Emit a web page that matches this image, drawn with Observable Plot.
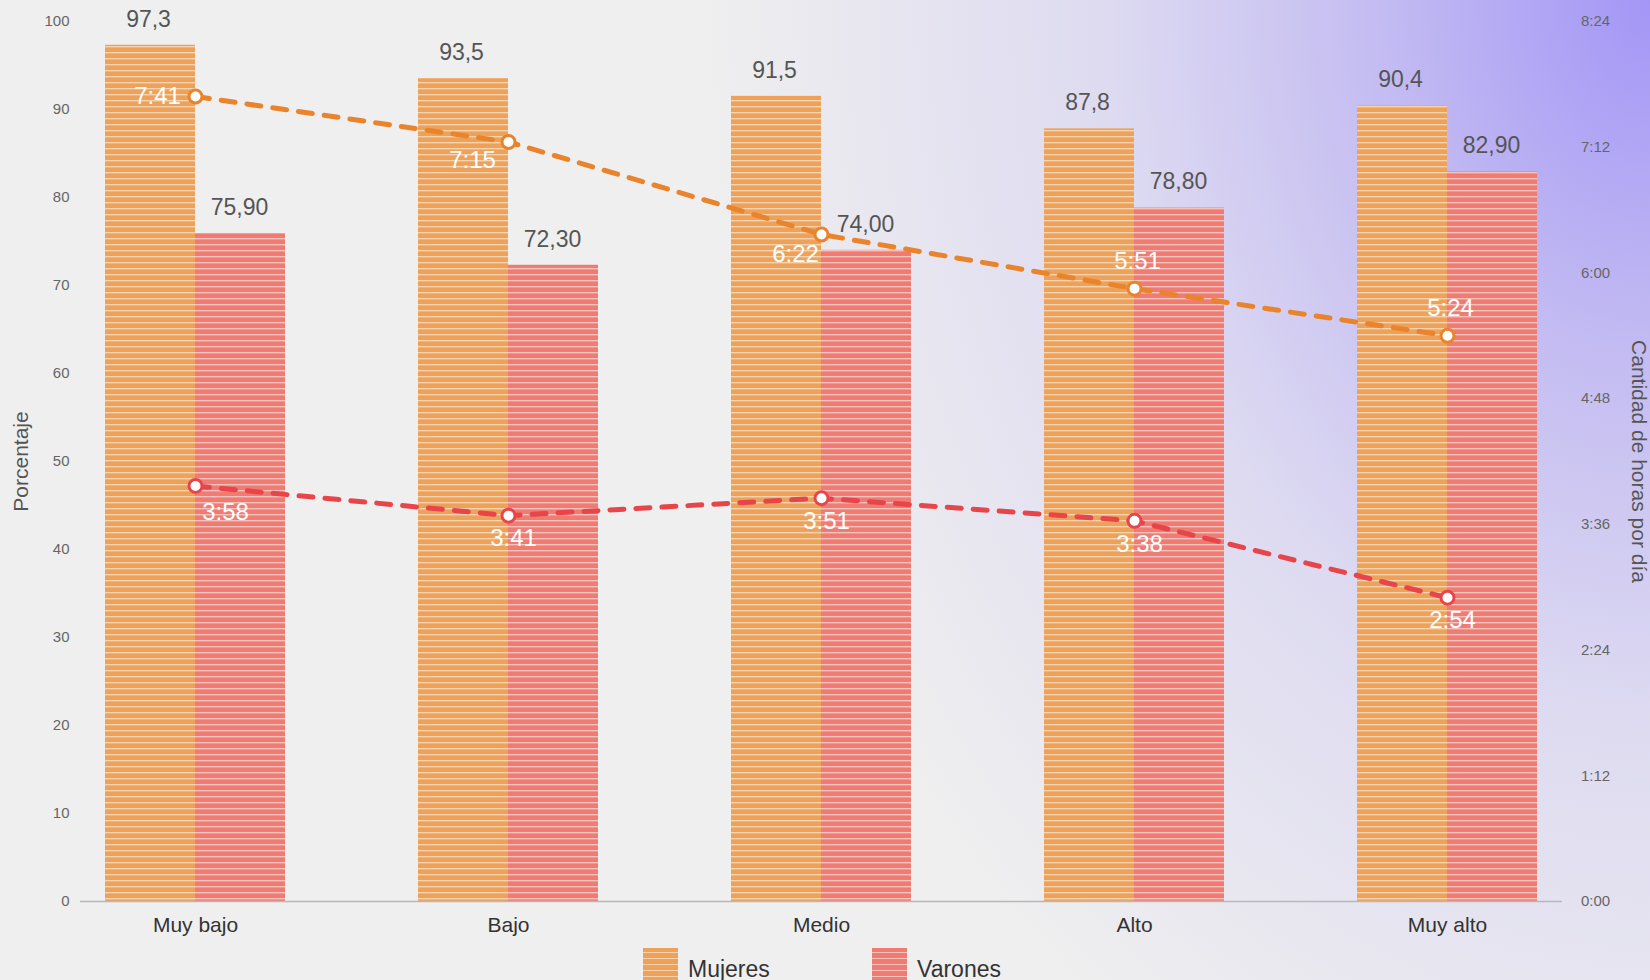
<!DOCTYPE html>
<html>
<head>
<meta charset="utf-8">
<script src="https://cdn.jsdelivr.net/npm/d3@7"></script>
<script src="https://cdn.jsdelivr.net/npm/@observablehq/plot@0.6"></script>
<style>
  html, body { margin: 0; padding: 0; }
  body {
    width: 1650px; height: 980px; overflow: hidden;
    font-family: "Liberation Sans", Arial, sans-serif;
    background: radial-gradient(ellipse 950px 1250px at 100% 0%, #a396f6 0%, #c3bbf2 28%, #dedbf1 58%, #efefef 100%);
  }
  #legend { position: relative; height: 40px; }
  .item { position: absolute; top: 8px; display: flex; align-items: flex-start; }
  .sw { width: 35px; height: 35px; margin-right: 10px; }
  .lab { font-size: 23px; color: #333; line-height: 1; margin-top: 10px; }
</style>
</head>
<body>
<div id="chart"></div>
<div id="legend">
  <div class="item" style="left:643px"><div class="sw" style="background: repeating-linear-gradient(180deg, #eea259 0px, #eea259 4px, #f5d3ae 4px, #f5d3ae 5.5px, #eea259 5.5px, #eea259 6px);"></div><div class="lab">Mujeres</div></div>
  <div class="item" style="left:872px"><div class="sw" style="background: repeating-linear-gradient(180deg, #f07b73 0px, #f07b73 4px, #f4c2bc 4px, #f4c2bc 5.5px, #f07b73 5.5px, #f07b73 6px);"></div><div class="lab">Varones</div></div>
</div>
<script>
const categorias = ["Muy bajo", "Bajo", "Medio", "Alto", "Muy alto"];
const mujeresPct = [97.3, 93.5, 91.5, 87.8, 90.4];
const varonesPct = [75.9, 72.3, 74.0, 78.8, 82.9];
const mujeresHoras = ["7:41", "7:15", "6:22", "5:51", "5:24"];
const varonesHoras = ["3:58", "3:41", "3:51", "3:38", "2:54"];
const horasTicks = ["0:00", "1:12", "2:24", "3:36", "4:48", "6:00", "7:12", "8:24"];
const pctTicks = [0, 10, 20, 30, 40, 50, 60, 70, 80, 90, 100];

const toMin = s => { const [h, m] = s.split(":").map(Number); return h * 60 + m; };
const maxMin = toMin(horasTicks[horasTicks.length - 1]);
const toY = s => toMin(s) / maxMin * 100;   // right axis shares the frame with left axis
const fmt1 = v => v.toFixed(1).replace(".", ",");
const fmt2 = v => v.toFixed(2).replace(".", ",");

const data = categorias.map((c, i) => ({
  cat: c, i,
  m: mujeresPct[i], v: varonesPct[i],
  hm: mujeresHoras[i], hv: varonesHoras[i],
  ym: toY(mujeresHoras[i]), yv: toY(varonesHoras[i])
}));

const C_M = "#e9842c", C_V = "#e8454a";
const timeText = (yField, textField, idx, dx, dy) => Plot.text(data.filter(d => idx.includes(d.i)), {
  x: "cat", y: yField, text: textField, dx, dy, fill: "white", fontSize: 24
});

const tickMap = new Map(horasTicks.map(t => [toY(t), t]));

const plot = Plot.plot({
  width: 1650, height: 940,
  marginLeft: 80, marginRight: 88, marginTop: 21, marginBottom: 39,
  style: { background: "transparent", fontFamily: "Liberation Sans, Arial, sans-serif", overflow: "visible" },
  x: { type: "band", domain: categorias, paddingInner: 0.426, paddingOuter: 0.077, label: null },
  y: { domain: [0, 100], label: null },
  marks: [
    Plot.axisY({ ticks: pctTicks, tickSize: 0, tickPadding: 11, fontSize: 15, fill: "#666", label: null }),
    Plot.axisY({ anchor: "right", ticks: horasTicks.map(toY), tickFormat: d => tickMap.get(d), tickSize: 0, tickPadding: 33, textAnchor: "middle", fontSize: 15, fill: "#666", label: null }),
    Plot.axisX({ tickSize: 0, tickPadding: 16, fontSize: 21, fill: "#333", label: null }),
    Plot.barY(data, { x: "cat", y: "m", fill: "url(#pat-m)", insetRight: 90 }),
    Plot.barY(data, { x: "cat", y: "v", fill: "url(#pat-v)", insetLeft: 90 }),
    Plot.ruleY([0], { stroke: "#b8b8b8", strokeWidth: 1.5 }),
    Plot.text(data, { x: "cat", y: "m", text: d => fmt1(d.m), dx: -47, dy: -26, fill: "#555", fontSize: 23 }),
    Plot.text(data, { x: "cat", y: "v", text: d => fmt2(d.v), dx: 44, dy: -26, fill: "#555", fontSize: 23 }),
    Plot.line(data, { x: "cat", y: "ym", stroke: C_M, strokeWidth: 5, strokeDasharray: "14,12" }),
    Plot.line(data, { x: "cat", y: "yv", stroke: C_V, strokeWidth: 5, strokeDasharray: "14,12" }),
    Plot.dot(data, { x: "cat", y: "ym", r: 6.5, fill: "white", stroke: C_M, strokeWidth: 3 }),
    Plot.dot(data, { x: "cat", y: "yv", r: 6.5, fill: "white", stroke: C_V, strokeWidth: 3 }),
    timeText("ym", "hm", [0], -38, 0),
    timeText("ym", "hm", [1], -36, 18),
    timeText("ym", "hm", [2], -26, 20),
    timeText("ym", "hm", [3, 4], 3, -27),
    timeText("yv", "hv", [0], 30, 26),
    timeText("yv", "hv", [1, 2, 3, 4], 5, 23),
    Plot.text(["Porcentaje"], { frameAnchor: "left", textAnchor: "middle", dx: -59, rotate: -90, fontSize: 21, fill: "#555" }),
    Plot.text(["Cantidad de horas por día"], { frameAnchor: "right", textAnchor: "middle", dx: 76, rotate: 90, fontSize: 21, fill: "#555" })
  ]
});

// stripe patterns for the bars
const ns = "http://www.w3.org/2000/svg";
const defs = document.createElementNS(ns, "defs");
defs.innerHTML = `
  <pattern id="pat-m" patternUnits="userSpaceOnUse" width="12" height="6">
    <rect width="12" height="6" fill="#eea259"/>
    <rect y="4" width="12" height="1.4" fill="#f5d3ae"/>
  </pattern>
  <pattern id="pat-v" patternUnits="userSpaceOnUse" width="12" height="6">
    <rect width="12" height="6" fill="#f07b73"/>
    <rect y="4" width="12" height="1.4" fill="#f4c2bc"/>
  </pattern>`;
plot.insertBefore(defs, plot.firstChild);
document.getElementById("chart").appendChild(plot);
</script>
</body>
</html>
